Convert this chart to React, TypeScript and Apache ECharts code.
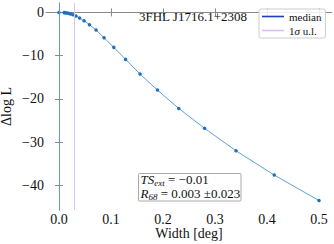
import React, { useEffect, useRef } from "react";
import * as echarts from "echarts";

const widths = [0, 0.01, 0.0122, 0.0149, 0.0181, 0.022, 0.0268, 0.0326, 0.0396, 0.0482, 0.0586, 0.0713, 0.0867, 0.1054, 0.1281, 0.1558, 0.1894, 0.2303, 0.28, 0.3405, 0.414, 0.5];
const dLogL = [0, -0.05, -0.08, -0.12, -0.2, -0.36, -0.53, -0.85, -1.3, -1.92, -2.85, -4.07, -5.86, -8.08, -10.86, -14.26, -17.96, -22.2, -26.8, -32.0, -37.6, -43.5];
const xTicks = [0, 0.1, 0.2, 0.3, 0.4, 0.5];
const yTicks = [0, -10, -20, -30, -40];
const medianWidth = 0.003;
const upperLimit = 0.026;
const sourceName = "3FHL J1716.1+2308";
const tsExt = "−0.01";
const r68Text = "0.003 ±0.023";

const FONT = "'Liberation Serif', 'Times New Roman', serif";
const AX = "#8a8a8a";

export default function App() {
  const ref = useRef<HTMLDivElement>(null);
  useEffect(() => {
    if (!ref.current) return;
    const chart = echarts.init(ref.current, null, { renderer: "svg" });
    const fmtY = (v: number) => (v < 0 ? "−" + Math.abs(v) : String(v));
    const tickStyle = { inside: true, length: 4, lineStyle: { color: AX, width: 1 } };
    chart.setOption({
      animation: false,
      backgroundColor: "#ffffff",
      textStyle: { fontFamily: FONT },
      legend: {
        data: [
          { name: "median", itemStyle: { color: "#1a3fc0" } },
          { name: "1σ u.l.", itemStyle: { color: "#dcc0f5" } },
        ],
        orient: "vertical",
        left: 259,
        top: 9,
        padding: [2, 4, 2, 3],
        itemGap: 3,
        itemWidth: 22,
        itemHeight: 1.6,
        icon: "rect",
        borderColor: "#cccccc",
        borderWidth: 1,
        borderRadius: 2,
        backgroundColor: "rgba(255,255,255,0.85)",
        formatter: (name: string) => (name === "median" ? "{n|median}" : "{n|1}{i|σ}{n| u.l.}"),
        textStyle: {
          fontFamily: FONT,
          fontSize: 11,
          color: "#111",
          rich: {
            n: { fontFamily: FONT, fontSize: 11, color: "#111", lineHeight: 12 },
            i: { fontFamily: FONT, fontSize: 11, fontStyle: "italic", color: "#111", lineHeight: 12 },
          },
        },
      },
      grid: { left: 46, right: 2, top: 3, bottom: 34, outerBoundsMode: "none", containLabel: false },
      xAxis: [
        {
          type: "value",
          min: -0.025,
          max: 0.525,
          position: "bottom",
          name: "Width [deg]",
          nameLocation: "middle",
          nameGap: 16,
          nameMoveOverlap: false,
          nameTextStyle: { fontFamily: FONT, fontSize: 14, color: "#111" },
          axisLine: { show: true, lineStyle: { color: AX, width: 1 } },
          axisTick: { ...tickStyle, customValues: xTicks },
          axisLabel: {
            customValues: xTicks,
            formatter: (v: number) => v.toFixed(1),
            fontFamily: FONT,
            fontSize: 14,
            color: "#111",
            margin: 2,
          },
          splitLine: { show: false },
        },
        {
          type: "value",
          min: -0.025,
          max: 0.525,
          position: "top",
          axisLine: { show: false },
          axisTick: { ...tickStyle, customValues: xTicks },
          axisLabel: { show: false },
          splitLine: { show: false },
        },
      ],
      yAxis: [
        {
          type: "value",
          min: -45.675,
          max: 2.175,
          position: "left",
          name: "Δlog L",
          nameLocation: "middle",
          nameGap: 33,
          nameMoveOverlap: false,
          nameTextStyle: { fontFamily: FONT, fontSize: 14, color: "#111" },
          axisLine: { show: true, lineStyle: { color: AX, width: 1 } },
          axisTick: { ...tickStyle, customValues: yTicks },
          axisLabel: {
            customValues: yTicks,
            formatter: fmtY,
            fontFamily: FONT,
            fontSize: 14,
            color: "#111",
            margin: 2,
          },
          splitLine: { show: false },
        },
        {
          type: "value",
          min: -45.675,
          max: 2.175,
          position: "right",
          axisLine: { show: true, lineStyle: { color: AX, width: 1 } },
          axisTick: { ...tickStyle, customValues: yTicks },
          axisLabel: { show: false },
          splitLine: { show: false },
        },
      ],
      series: [
        {
          name: "median",
          type: "line",
          data: [],
          color: "#6a8cf2",
          markLine: {
            silent: true,
            symbol: "none",
            label: { show: false },
            lineStyle: { color: "#6a8cf2", width: 1, type: "solid" },
            data: [{ xAxis: medianWidth }],
          },
        },
        {
          name: "1σ u.l.",
          type: "line",
          data: [],
          color: "#dcc4f8",
          markLine: {
            silent: true,
            symbol: "none",
            label: { show: false },
            lineStyle: { color: "#dcc4f8", width: 1, type: "solid" },
            data: [{ xAxis: upperLimit }],
          },
        },
        {
          name: "scan",
          type: "line",
          data: widths.map((w, i) => [w, dLogL[i]]),
          symbol: "circle",
          symbolSize: 3.5,
          itemStyle: { color: "#1f6fb8" },
          lineStyle: { color: "#4a95d8", width: 0.9 },
          z: 3,
        },
      ],
      graphic: [
        {
          type: "text",
          x: 139,
          y: 10,
          z: 11,
          style: {
            text: sourceName,
            fontFamily: FONT,
            fontSize: 13,
            fill: "#111",
          },
        },
        {
          type: "rect",
          shape: { x: 138.5, y: 173.5, width: 102.5, height: 27.5, r: 1 },
          style: { fill: "rgba(255,255,255,0.85)", stroke: "#aaaaaa", lineWidth: 1 },
          z: 10,
        },
        {
          type: "text",
          x: 140.5,
          y: 173,
          z: 11,
          style: {
            text: "{it|TS}{sub|ext}{n| = " + tsExt + "}\n{it|R}{sub|68}{n| = " + r68Text + "}",
            fontFamily: FONT,
            fontSize: 13,
            fill: "#111",
            rich: {
              it: { fontFamily: FONT, fontSize: 13, fontStyle: "italic", fill: "#111", lineHeight: 14, verticalAlign: "top" },
              n: { fontFamily: FONT, fontSize: 13, fill: "#111", lineHeight: 14, verticalAlign: "top" },
              sub: { fontFamily: FONT, fontSize: 9, fontStyle: "italic", fill: "#111", lineHeight: 9, padding: [4, 0, 0, 0], verticalAlign: "bottom" },
            },
          },
        },
      ],
    });
    return () => chart.dispose();
  }, []);
  return (
    <div
      ref={ref}
      style={{ position: "fixed", left: 0, top: 0, width: 334, height: 244, background: "#fff" }}
    />
  );
}
